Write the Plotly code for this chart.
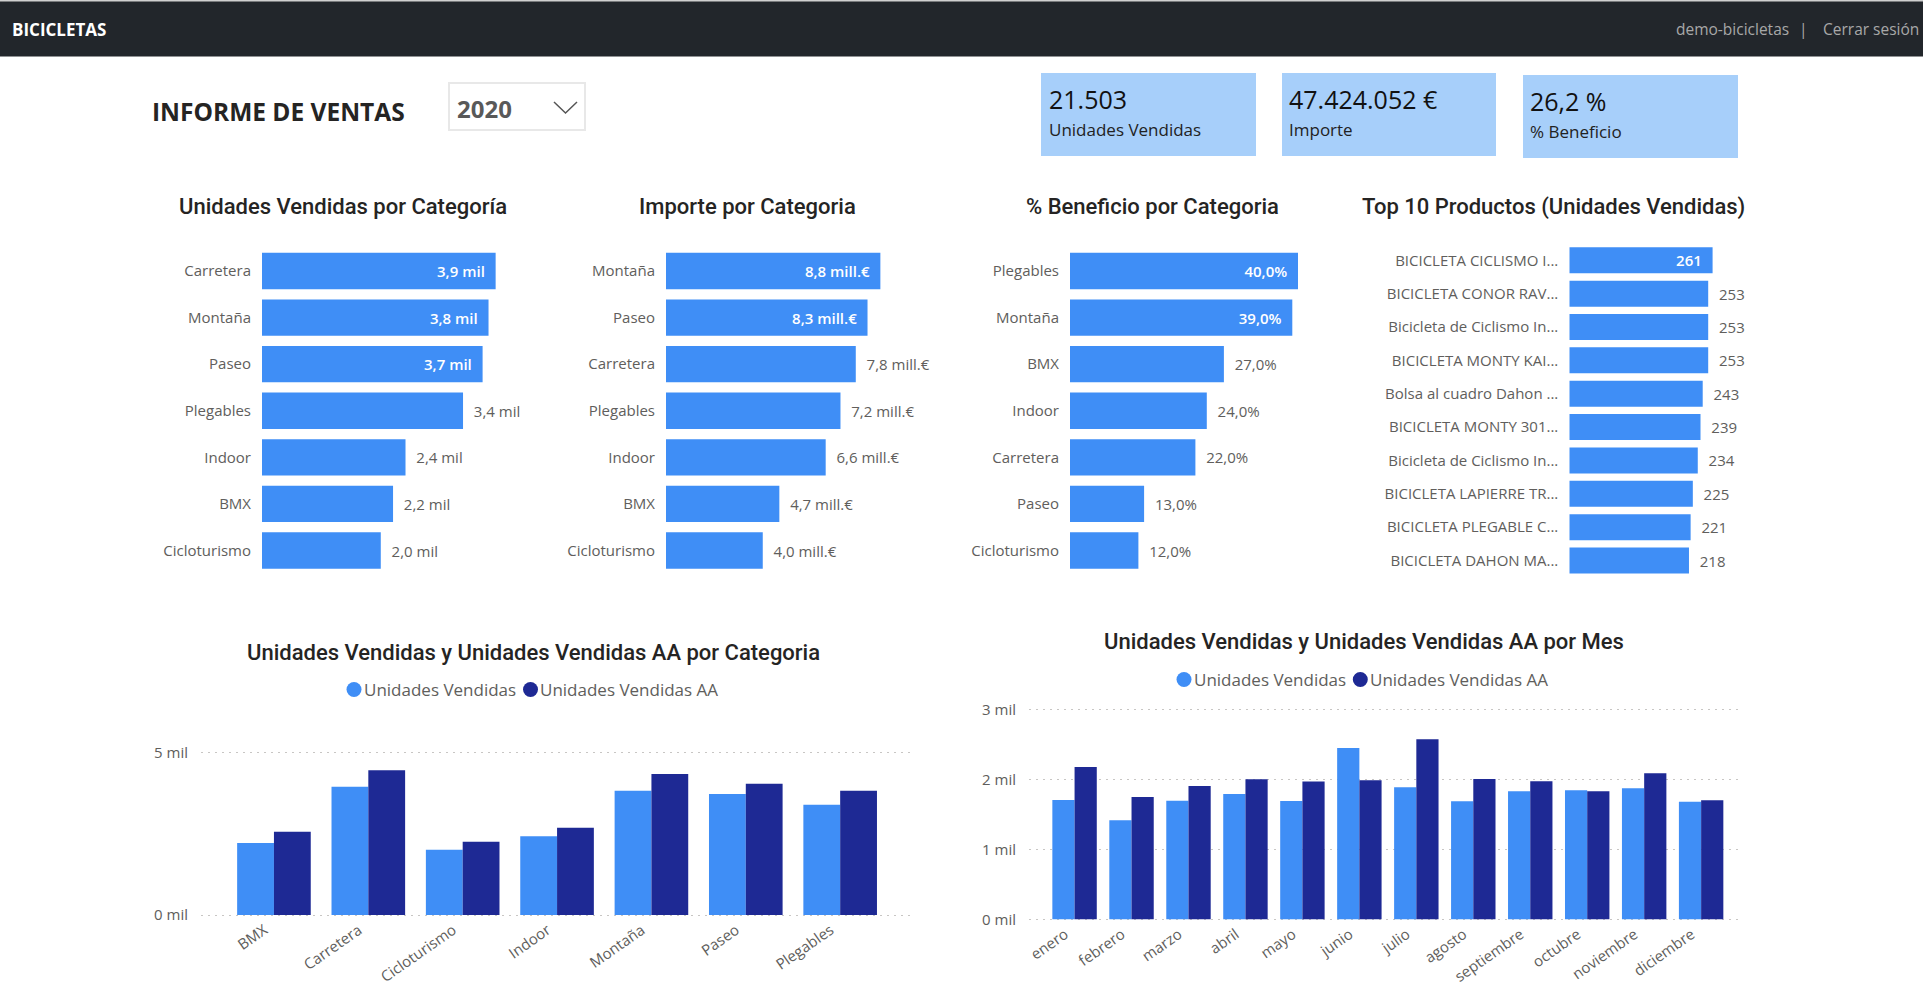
import plotly.graph_objects as go

W, H = 1923, 1000


def px(x):
    return x / W


def py(y):
    return 1 - y / H


# ---------------- DATA ----------------
cat_units = ["Carretera", "Montaña", "Paseo", "Plegables", "Indoor", "BMX", "Cicloturismo"]
units_vals = [3940, 3820, 3720, 3390, 2420, 2210, 2003]

cat_importe = ["Montaña", "Paseo", "Carretera", "Plegables", "Indoor", "BMX", "Cicloturismo"]
importe_vals = [8840000, 8310000, 7826000, 7195000, 6585000, 4674000, 3990000]

cat_benef = ["Plegables", "Montaña", "BMX", "Indoor", "Carretera", "Paseo", "Cicloturismo"]
benef_vals = [40.0, 39.0, 27.0, 24.0, 22.0, 13.0, 12.0]

top_products = [
    "BICICLETA CICLISMO I...",
    "BICICLETA CONOR RAV...",
    "Bicicleta de Ciclismo In...",
    "BICICLETA MONTY KAI...",
    "Bolsa al cuadro Dahon ...",
    "BICICLETA MONTY 301...",
    "Bicicleta de Ciclismo In...",
    "BICICLETA LAPIERRE TR...",
    "BICICLETA PLEGABLE C...",
    "BICICLETA DAHON MA...",
]
top_vals = [261, 253, 253, 253, 243, 239, 234, 225, 221, 218]

cat_alpha = ["BMX", "Carretera", "Cicloturismo", "Indoor", "Montaña", "Paseo", "Plegables"]
cat_prev_units = [2560, 4450, 2250, 2680, 4330, 4030, 3820]

months = ["enero", "febrero", "marzo", "abril", "mayo", "junio", "julio",
          "agosto", "septiembre", "octubre", "noviembre", "diciembre"]
month_units = [1705, 1414, 1695, 1790, 1690, 2448, 1886, 1686, 1829, 1843, 1871, 1681]
month_prev = [2176, 1748, 1905, 2000, 1970, 1986, 2571, 2005, 1971, 1829, 2086, 1700]

series_names = ["Unidades Vendidas", "Unidades Vendidas AA"]

kpi_unidades = 21503
kpi_importe = 47424052
kpi_beneficio = 26.2

cat_ticks = [0, 5000]
month_ticks = [0, 1000, 2000, 3000]

# ---------------- STYLE ----------------
LIGHT = "#3F8EF6"
DARK = "#1E2994"
GRAY = "#605E5C"
TXT = "#252423"
BODY = "Open Sans"
TITLE = "Roboto"
KPI_BG = "#A7CFFA"
GRID = "#C8C6C4"


def fmt_mil(v):
    return f"{v / 1000:.1f}".replace(".", ",") + " mil"


def fmt_mil_int(v):
    return f"{v / 1000:.0f} mil"


def fmt_mill(v):
    return f"{v / 1e6:.1f}".replace(".", ",") + " mill.€"


def fmt_pct(v):
    return f"{v:.1f}".replace(".", ",") + "%"


def thousands(n):
    return f"{n:,}".replace(",", ".")


NB = "\u00a0\u00a0"


def labels(vals, fmt, n_inside):
    txt, pos = [], []
    for i, v in enumerate(vals):
        if i < n_inside:
            txt.append(fmt(v) + NB)
            pos.append("inside")
        else:
            txt.append(NB + fmt(v))
            pos.append("outside")
    return txt, pos


fig = go.Figure()

inside_font = dict(color="white", size=15, family=BODY, weight=600)
outside_font = dict(color=GRAY, size=15, family=BODY)


def hbar(xv, yv, fmt, n_inside, xa, ya):
    t, p = labels(xv, fmt, n_inside)
    fig.add_trace(go.Bar(
        x=xv, y=yv, orientation="h", xaxis=xa, yaxis=ya,
        marker=dict(color=LIGHT, line=dict(width=0)),
        text=t, textposition=p, insidetextanchor="end", textangle=0,
        insidetextfont=inside_font, outsidetextfont=outside_font,
        constraintext="none", cliponaxis=False, showlegend=False, hoverinfo="skip",
    ))


hbar(units_vals, cat_units, fmt_mil, 3, "x", "y")
hbar(importe_vals, cat_importe, fmt_mill, 2, "x2", "y2")
hbar(benef_vals, cat_benef, fmt_pct, 2, "x3", "y3")
hbar(top_vals, list(range(len(top_vals))), lambda v: str(v), 1, "x4", "y4")

units_by_cat = dict(zip(cat_units, units_vals))
for xs, ys, color, name, xa, ya in [
    (cat_alpha, [units_by_cat[c] for c in cat_alpha], LIGHT, series_names[0], "x5", "y5"),
    (cat_alpha, cat_prev_units, DARK, series_names[1], "x5", "y5"),
    (months, month_units, LIGHT, series_names[0], "x6", "y6"),
    (months, month_prev, DARK, series_names[1], "x6", "y6"),
]:
    fig.add_trace(go.Bar(x=xs, y=ys, xaxis=xa, yaxis=ya, name=name,
                         marker=dict(color=color, line=dict(width=0)),
                         showlegend=False, hoverinfo="skip"))

cat_tick = dict(tickfont=dict(color=GRAY, size=15, family=BODY), ticks="", showgrid=False,
                zeroline=False, showline=False, ticklabelstandoff=10, fixedrange=True,
                automargin=False)


def hx(x0, x1, ppu):
    return dict(domain=[px(x0), px(x1)], range=[0, (x1 - x0) / ppu], visible=False,
                fixedrange=True, automargin=False)


def vy(y_zero, y_top, top_val, pad, ticks, anchor):
    ppu = (y_zero - y_top) / top_val
    return dict(domain=[py(y_zero + pad), py(y_top - pad)], anchor=anchor,
                range=[-pad / ppu, top_val + pad / ppu],
                tickmode="array", tickvals=ticks, ticktext=[fmt_mil_int(t) for t in ticks],
                tickfont=dict(color=GRAY, size=15, family=BODY), ticks="", ticklabelstandoff=12,
                showgrid=True, gridcolor=GRID, gridwidth=1, griddash="2px,5px",
                zeroline=False, showline=False, fixedrange=True, automargin=False)


def vx(x0, x1, cats, r0, r1, anchor):
    return dict(domain=[px(x0), px(x1)], anchor=anchor, type="category",
                categoryorder="array", categoryarray=cats, range=[r0, r1],
                tickmode="array", tickvals=cats, ticktext=[c + "\u00a0\u00a0\u00a0" for c in cats],
                tickangle=-35, tickfont=dict(color=GRAY, size=15, family=BODY), ticks="",
                ticklabelstandoff=-7,
                showgrid=False, zeroline=False, showline=False, fixedrange=True, automargin=False)


layout = dict(
    width=W, height=H, margin=dict(l=0, r=0, t=0, b=0, pad=0, autoexpand=False),
    paper_bgcolor="white", plot_bgcolor="rgba(0,0,0,0)",
    font=dict(family=BODY, color=GRAY),
    barmode="group", bargap=0.22, bargroupgap=0,
    xaxis=dict(hx(262, 540, 59.3 / 1000), anchor="y"),
    yaxis=dict(cat_tick, domain=[py(573.8), py(247.7)], anchor="x", type="category",
               categoryorder="array", categoryarray=cat_units, autorange="reversed"),
    xaxis2=dict(hx(666, 940, 24.25 / 1e6), anchor="y2"),
    yaxis2=dict(cat_tick, domain=[py(573.8), py(247.7)], anchor="x2", type="category",
                categoryorder="array", categoryarray=cat_importe, autorange="reversed"),
    xaxis3=dict(hx(1070, 1340, 5.7), anchor="y3"),
    yaxis3=dict(cat_tick, domain=[py(573.8), py(247.7)], anchor="x3", type="category",
                categoryorder="array", categoryarray=cat_benef, autorange="reversed"),
    xaxis4=dict(hx(1569.3, 1760, 0.549), anchor="y4"),
    yaxis4=dict(cat_tick, domain=[py(577.2), py(243.6)], anchor="x4",
                range=[len(top_vals) - 0.5, -0.5],
                tickmode="array", tickvals=list(range(len(top_vals))), ticktext=top_products),
    xaxis5=vx(201, 910, cat_alpha, -0.773, 6.74, "y5"),
    yaxis5=vy(915, 752.3, 5000, 3, cat_ticks, "x5"),
    xaxis6=vx(1029, 1741, months, -0.8, 11.7, "y6"),
    yaxis6=vy(919.3, 709.3, 3000, 3, month_ticks, "x6"),
)

shapes = [
    dict(type="rect", xref="paper", yref="paper", x0=0, x1=1, y0=py(56.5), y1=1,
         fillcolor="#22262B", line=dict(width=0), layer="below"),
    dict(type="rect", xref="paper", yref="paper", x0=0, x1=1, y0=py(1.5), y1=1,
         fillcolor="#CFCFCF", line=dict(width=0), layer="below"),
    dict(type="rect", xref="paper", yref="paper", x0=px(449), x1=px(585), y0=py(130), y1=py(83),
         fillcolor="white", line=dict(color="#E8E8E8", width=2), layer="below"),
    dict(type="path", xref="paper", yref="paper",
         path=f"M {px(554)},{py(102)} L {px(565.5)},{py(113)} L {px(577)},{py(102)}",
         line=dict(color="#555555", width=1.5)),
]
kpi_boxes = [(1041, 1256, 73, 156), (1282, 1496, 73, 156), (1523, 1738, 75, 158)]
for x0, x1, y0, y1 in kpi_boxes:
    shapes.append(dict(type="rect", xref="paper", yref="paper", x0=px(x0), x1=px(x1),
                       y0=py(y1), y1=py(y0), fillcolor=KPI_BG, line=dict(width=0), layer="below"))


def ann(text, x, y, size, color, family=BODY, xanchor="left", weight=None):
    f = dict(size=size, color=color, family=family)
    if weight:
        f["weight"] = weight
    return dict(text=text, x=px(x), y=py(y), xref="paper", yref="paper", xanchor=xanchor,
                yanchor="middle", showarrow=False, font=f)


annotations = [
    ann("BICICLETAS", 10, 29.5, 17, "white", weight="bold"),
    ann("demo-bicicletas", 1674, 29.5, 15.5, "#A8A8A8"),
    ann("|", 1803, 29.5, 15.5, "#A8A8A8", xanchor="center"),
    ann("Cerrar sesión", 1821, 29.5, 15.5, "#A8A8A8"),
    ann("INFORME DE VENTAS", 150, 112, 24.5, TXT, weight="bold"),
    ann("2020", 455, 109, 24, "#595959", weight="bold"),
    ann(thousands(kpi_unidades), 1047, 99, 25, "#111111"),
    ann("Unidades Vendidas", 1047, 129.5, 17, "#222222"),
    ann(thousands(kpi_importe) + " €", 1287, 99, 25, "#111111"),
    ann("Importe", 1287, 129.5, 17, "#222222"),
    ann(f"{kpi_beneficio:.1f}".replace(".", ",") + " %", 1528, 101, 25, "#111111"),
    ann("% Beneficio", 1528, 131, 17, "#222222"),
    ann("Unidades Vendidas por Categoría", 343, 207, 22, TXT, family=TITLE, xanchor="center", weight=500),
    ann("Importe por Categoria", 747, 207, 22, TXT, family=TITLE, xanchor="center", weight=500),
    ann("% Beneficio por Categoria", 1152, 207, 22, TXT, family=TITLE, xanchor="center", weight=500),
    ann("Top 10 Productos (Unidades Vendidas)", 1553, 207, 22, TXT, family=TITLE, xanchor="center",
        weight=500),
    ann("Unidades Vendidas y Unidades Vendidas AA por Categoria", 533, 652, 22, TXT,
        family=TITLE, xanchor="center", weight=500),
    ann("Unidades Vendidas y Unidades Vendidas AA por Mes", 1364, 641, 22, TXT,
        family=TITLE, xanchor="center", weight=500),
]

# custom legends (circle marker + label)
legend_items = [
    # (circle centre x, text start x, y, colour, name)
    (354, 362, 689.5, LIGHT, series_names[0]),
    (530.5, 538, 689.5, DARK, series_names[1]),
    (1184, 1192, 679.5, LIGHT, series_names[0]),
    (1360.3, 1368, 679.5, DARK, series_names[1]),
]
R = 7.5
for cx, tx, cy, color, name in legend_items:
    shapes.append(dict(type="circle", xref="paper", yref="paper",
                       x0=px(cx - R), x1=px(cx + R), y0=py(cy + R), y1=py(cy - R),
                       fillcolor=color, line=dict(width=0)))
    annotations.append(ann(name, tx, cy, 17, GRAY))

layout["shapes"] = shapes
layout["annotations"] = annotations
fig.update_layout(**layout)

fig.write_html("out.html", config={"displayModeBar": False},
               post_script="document.body.style.margin='0px';document.body.style.overflow='hidden';")
